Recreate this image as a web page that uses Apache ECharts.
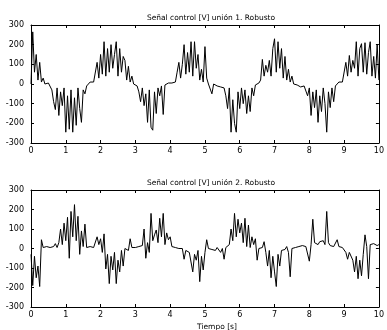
<!DOCTYPE html>
<html>
<head>
<meta charset="utf-8">
<script src="https://cdn.jsdelivr.net/npm/echarts@6/dist/echarts.min.js"></script>
<style>
  html, body { margin: 0; padding: 0; background: #fff; }
  #chart { width: 387px; height: 330px; }
</style>
</head>
<body>
<div id="chart"></div>
<script>
// Control signal of a two-joint robot under the robust controller, sampled every 0.05 s.
const sampleStep = 0.05;
const titles = ['Señal control [V] unión 1. Robusto', 'Señal control [V] unión 2. Robusto'];
const xLabel = 'Tiempo [s]';
const xTicks = [0, 1, 2, 3, 4, 5, 6, 7, 8, 9, 10];
const yTicks = [-300, -200, -100, 0, 100, 200, 300];

// Joint 1 control voltage [V]
const joint1 = [
  0, 265, 60, 150, 20, 110, 10, 30, 0, 10,
  5, 0, -30, -90, -130, -20, -160, -40, -110, -20,
  -245, -60, -230, -30, -245, -70, -210, -20, -125, -195,
  -30, -50, -10, 0, 10, 5, 10, 20, 110, 30,
  150, 50, 215, 40, 180, 60, 200, 80, 150, 215,
  40, 180, 60, 140, 120, 20, 90, 10, 40, 0,
  -5, -10, -40, -90, -20, -110, -50, -195, -30, -220,
  -235, -40, -150, -20, -60, -10, -155, -5, 0, 5,
  0, 5, 0, 10, 60, 110, 30, 100, 200, 50,
  160, 60, 215, 40, 215, 80, 150, 20, 75, 10,
  190, 30, 0, 5, -50, 0, -5, -10, -10, -15,
  -5, -20, -60, -125, -20, -245, -80, -200, -245, -40,
  -125, -20, -100, -30, -150, -60, -140, -20, -60, -5,
  0, 5, 20, 125, 40, 95, 60, 120, 40, 180,
  230, 60, 215, 80, 180, 30, 140, 20, 75, 10,
  40, 0, -10, -5, -10, -15, -5, -10, -20, -60,
  -20, -160, -40, -120, -30, -195, -60, -140, -20, -100,
  -245, -40, -120, -20, -90, -10, 0, 10, 5, 10,
  20, 110, 40, 145, 60, 120, 80, 215, 40, 180,
  205, 60, 210, 50, 160, 215, 40, 140, 30, 200,
  20
];

// Joint 2 control voltage [V]
const joint2 = [
  -30, -190, -40, -150, -90, -195, 45, 5, 15, 10,
  20, 5, 15, 10, 25, 5, 30, 100, 20, 130,
  40, 160, -50, 190, 60, 225, 40, 165, -30, 90,
  10, 125, 5, 0, 10, 0, 5, -5, 60, 20,
  50, -20, 75, -105, -30, -180, -40, -110, -20, -180,
  -60, -120, -10, -90, 0, 5, -10, 50, 5, 10,
  5, 15, 10, 20, 15, 100, -50, 30, -20, 180,
  40, 70, 95, 30, 155, 60, 180, 20, 80, 45,
  60, 10, 0, 5, -5, 0, -10, 0, -55, -10,
  -5, -20, -10, -120, -30, -60, -10, -170, -40, -110,
  -20, 45, 0, 5, -5, 0, -10, 5, -5, -20,
  0, -55, 5, 0, 20, 100, 40, 180, 60, 150,
  80, 130, 30, 155, 10, 120, 5, 60, 20, 50,
  -60, 0, -10, 5, 35, -20, -90, -10, -150, -40,
  -120, -195, -30, -90, -10, 0, -5, 10, -20, -145,
  0, 10, 5, 15, 10, 20, 15, 25, 10, 20,
  -65, 20, 150, 30, 25, 20, 35, 25, 40, 20,
  190, 30, 15, 20, 10, 15, 45, 10, 15, 5,
  10, -20, -55, -20, -30, -60, -120, -40, -155, -60,
  -140, -30, 70, 10, -155, 20, 15, 25, 20, 15,
  20
];

const toPairs = vals => vals.map((v, i) => [+(i * sampleStep).toFixed(2), v]);

const font = 'DejaVu Sans';
const axisColor = '#000';

function xAxisPair(gridIndex) {
  return [
    {
      type: 'value', gridIndex, min: xTicks[0], max: xTicks[xTicks.length - 1], interval: 1,
      position: 'bottom',
      axisLine: { show: true, onZero: false, lineStyle: { color: axisColor, width: 1 } },
      axisTick: { show: true, inside: true, length: 3, lineStyle: { color: axisColor } },
      axisLabel: { color: '#000', fontFamily: font, fontSize: 8, margin: 4 },
      splitLine: { show: false }
    },
    {
      type: 'value', gridIndex, min: xTicks[0], max: xTicks[xTicks.length - 1], interval: 1,
      position: 'top',
      axisLine: { show: true, onZero: false, lineStyle: { color: axisColor, width: 1 } },
      axisTick: { show: true, inside: true, length: 3, lineStyle: { color: axisColor } },
      axisLabel: { show: false },
      splitLine: { show: false }
    }
  ];
}

function yAxisPair(gridIndex) {
  return [
    {
      type: 'value', gridIndex, min: yTicks[0], max: yTicks[yTicks.length - 1], interval: 100,
      position: 'left',
      axisLine: { show: true, onZero: false, lineStyle: { color: axisColor, width: 1 } },
      axisTick: { show: true, inside: true, length: 3, lineStyle: { color: axisColor } },
      axisLabel: { color: '#000', fontFamily: font, fontSize: 8, margin: 7 },
      splitLine: { show: false }
    },
    {
      type: 'value', gridIndex, min: yTicks[0], max: yTicks[yTicks.length - 1], interval: 100,
      position: 'right',
      axisLine: { show: true, onZero: false, lineStyle: { color: axisColor, width: 1 } },
      axisTick: { show: true, inside: true, length: 3, lineStyle: { color: axisColor } },
      axisLabel: { show: false },
      splitLine: { show: false }
    }
  ];
}

const chart = echarts.init(document.getElementById('chart'), null, { renderer: 'canvas' });

chart.setOption({
  animation: false,
  backgroundColor: '#fff',
  title: [
    { text: titles[0], left: 206, top: 9, textAlign: 'center',
      textStyle: { fontFamily: font, fontSize: 7.5, fontWeight: 'normal', color: '#000' } },
    { text: titles[1], left: 206, top: 174, textAlign: 'center',
      textStyle: { fontFamily: font, fontSize: 7.5, fontWeight: 'normal', color: '#000' } },
    { text: xLabel, left: 212, top: 318, textAlign: 'center',
      textStyle: { fontFamily: font, fontSize: 7.5, fontWeight: 'normal', color: '#000' } }
  ],
  grid: [
    { left: 31, top: 25, width: 349, height: 118 },
    { left: 31, top: 190, width: 349, height: 117 }
  ],
  xAxis: [...xAxisPair(0), ...xAxisPair(1)],
  yAxis: [...yAxisPair(0), ...yAxisPair(1)],
  series: [
    { type: 'line', xAxisIndex: 0, yAxisIndex: 0, data: toPairs(joint1),
      showSymbol: false, lineStyle: { color: '#000', width: 1 } },
    { type: 'line', xAxisIndex: 2, yAxisIndex: 2, data: toPairs(joint2),
      showSymbol: false, lineStyle: { color: '#000', width: 1 } }
  ]
});
</script>
</body>
</html>
